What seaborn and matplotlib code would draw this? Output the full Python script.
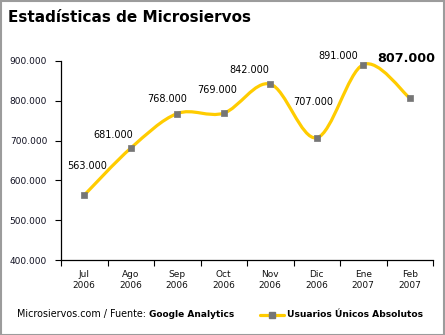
import numpy as np
import matplotlib
matplotlib.use("Agg")
import matplotlib.pyplot as plt
import seaborn as sns
import pandas as pd
from matplotlib.path import Path
from matplotlib.patches import PathPatch, Rectangle
from matplotlib.lines import Line2D
from matplotlib.ticker import FuncFormatter, FixedLocator

months = ["Jul\n2006", "Ago\n2006", "Sep\n2006", "Oct\n2006",
          "Nov\n2006", "Dic\n2006", "Ene\n2007", "Feb\n2007"]
users = [563000, 681000, 768000, 769000, 842000, 707000, 891000, 807000]
value_labels = ["563.000", "681.000", "768.000", "769.000",
                "842.000", "707.000", "891.000", "807.000"]
# label offsets from each point, in pixels (dx, dy)
label_offsets = [(3, 29), (-17, 13), (-10, 15), (-7, 23),
                 (-21, 14), (-4, 36), (-25, 9), (-3, 40)]

LINE = "#FFCC00"
MARK = "#767676"

sns.set_theme(style="white")
plt.rcParams["font.family"] = ["DejaVu Sans"]

df = pd.DataFrame({"x": np.arange(len(users)), "users": users})

fig = plt.figure(figsize=(4.45, 3.35), dpi=100)
ax = fig.add_axes([61 / 445, 75 / 335, 372 / 445, 199 / 335])

# smoothed line through the points as cubic Bezier segments
xs = df["x"].to_numpy(dtype=float)
ys = df["users"].to_numpy(dtype=float)
n = len(xs)
verts = [(xs[0], ys[0])]
codes = [Path.MOVETO]
for i in range(n - 1):
    i0 = max(i - 1, 0)
    i3 = min(i + 2, n - 1)
    c1 = (xs[i] + (xs[i + 1] - xs[i0]) / 6, ys[i] + (ys[i + 1] - ys[i0]) / 6)
    c2 = (xs[i + 1] - (xs[i3] - xs[i]) / 6, ys[i + 1] - (ys[i3] - ys[i]) / 6)
    verts += [c1, c2, (xs[i + 1], ys[i + 1])]
    codes += [Path.CURVE4] * 3
ax.add_patch(PathPatch(Path(verts, codes), fill=False, edgecolor=LINE,
                       linewidth=2.3, capstyle="round", joinstyle="round",
                       clip_on=False, zorder=2))

sns.scatterplot(data=df, x="x", y="users", ax=ax, marker="s", s=16,
                color=MARK, edgecolor=MARK, linewidth=0.5, zorder=3,
                clip_on=False, legend=False)

for i, (lab, (dx, dy)) in enumerate(zip(value_labels, label_offsets)):
    last = i == n - 1
    ax.annotate(lab, (xs[i], ys[i]), xytext=(dx, dy),
                textcoords="offset pixels", ha="center", va="center",
                fontsize=9.2 if last else 7,
                fontweight="bold" if last else "normal",
                color="#000000", annotation_clip=False)

ax.set_xlim(-0.5, n - 0.5)
ax.set_ylim(400000, 900000)
ax.set_yticks(np.arange(400000, 900001, 100000))
ax.yaxis.set_major_formatter(FuncFormatter(lambda v, p: f"{int(v):,}".replace(",", ".")))
ax.xaxis.set_major_locator(FixedLocator(np.arange(-0.5, n, 1.0)))
ax.xaxis.set_minor_locator(FixedLocator(np.arange(n)))
ax.set_xticklabels([])
ax.set_xticklabels(months, minor=True)
ax.tick_params(axis="x", which="major", direction="out", length=4, width=0.8,
               color="#000000", bottom=True)
ax.tick_params(axis="x", which="minor", length=0, pad=7.5, labelsize=6.5,
               labelcolor="#111111")
ax.tick_params(axis="y", direction="out", length=4, width=0.8, color="#000000",
               left=True, labelsize=6.5, labelcolor="#111122", pad=6)
for lbl in ax.get_xticklabels(minor=True):
    lbl.set_linespacing(1.25)
ax.set_xlabel("")
ax.set_ylabel("")
for side in ("top", "right"):
    ax.spines[side].set_visible(False)
for side in ("left", "bottom"):
    ax.spines[side].set_color("#000000")
    ax.spines[side].set_linewidth(0.9)
ax.grid(False)
ax.set_facecolor("white")

fig.text(8 / 445, 1 - 17 / 335, "Estadísticas de Microsiervos", fontsize=11,
         fontweight="bold", ha="left", va="center", color="#000000")

fy = 1 - 314.5 / 335
t1 = fig.text(17 / 445, fy, "Microsiervos.com / Fuente: ", fontsize=6.9,
              ha="left", va="center", color="#000000")
fig.canvas.draw()
bb = t1.get_window_extent()
fig.text(bb.x1 / 445, fy, "Google Analytics", fontsize=6.5, fontweight="bold",
         ha="left", va="center", color="#000000")

# legend entry
fig.add_artist(Line2D([260 / 445, 284 / 445], [fy, fy], color=LINE, linewidth=2.3,
                      transform=fig.transFigure))
fig.add_artist(Line2D([272 / 445], [fy], marker="s", markersize=4.5, color=MARK,
                      linestyle="none", transform=fig.transFigure))
fig.text(287 / 445, fy, "Usuarios Únicos Absolutos", fontsize=6.6,
         fontweight="bold", ha="left", va="center", color="#000000")

fig.patches.append(Rectangle((0.5 / 445, 0.5 / 335), 443.5 / 445, 333.5 / 335,
                             transform=fig.transFigure, fill=False,
                             edgecolor="#9c9c9c", linewidth=1.5))

fig.savefig("out.png", dpi=100, facecolor="white")
